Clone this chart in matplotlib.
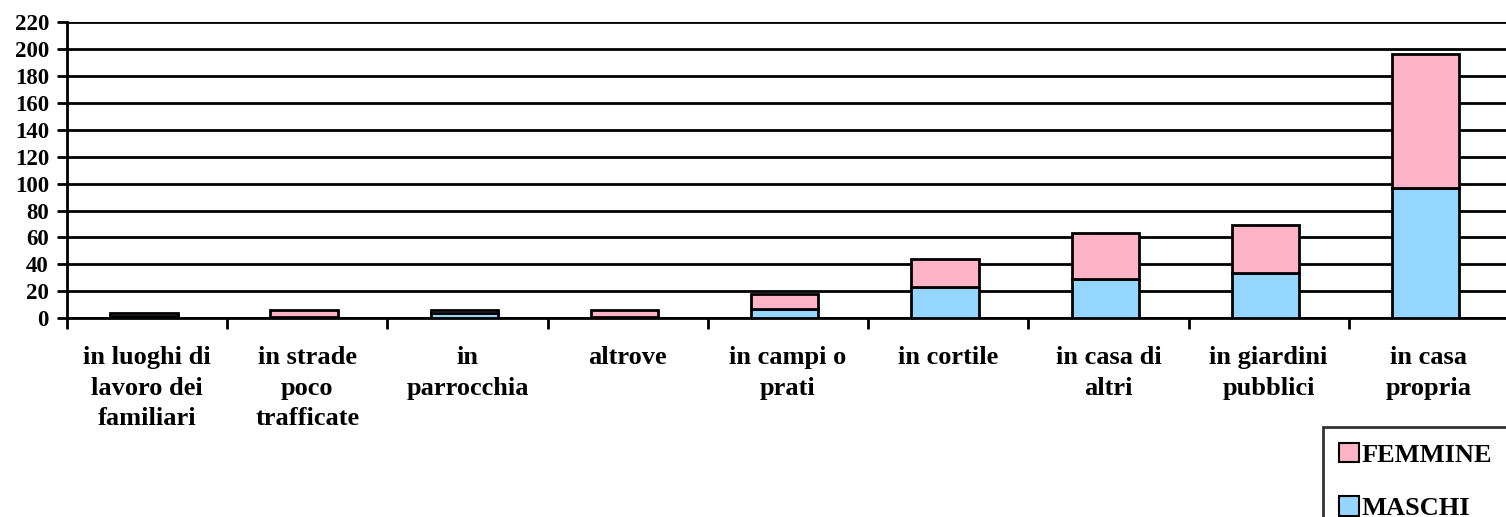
import matplotlib
matplotlib.use("Agg")
import matplotlib.pyplot as plt
from matplotlib.patches import Patch

categories = ["in luoghi di\nlavoro dei\nfamiliari", "in strade\npoco\ntrafficate",
              "in\nparrocchia", "altrove", "in campi o\nprati", "in cortile",
              "in casa di\naltri", "in giardini\npubblici", "in casa\npropria"]
maschi = [2, 1, 4, 1, 7, 23, 29, 34, 97]
femmine = [2, 5, 2, 5, 11, 21, 34, 35, 99]
yticks = list(range(0, 221, 20))

plt.rcParams['font.family'] = ['Liberation Serif', 'DejaVu Serif']
plt.rcParams['font.weight'] = 'bold'

W, H = 1506, 517
fig = plt.figure(figsize=(W / 100, H / 100), dpi=100)
ax = fig.add_axes([67 / W, 1 - 318.3 / H, 1442 / W, 296.3 / H])

pink = '#FFB3C6'
blue = '#94D6FF'
x = [i - 0.02 for i in range(len(categories))]
ax.bar(x, maschi, width=0.42, color=blue, edgecolor='black', linewidth=2, zorder=3)
ax.bar(x, femmine, bottom=maschi, width=0.42, color=pink, edgecolor='black', linewidth=2, zorder=3)

ax.set_ylim(0, 220)
ax.set_xlim(-0.5, len(categories) - 0.5)
ax.set_yticks(yticks)
ax.set_yticklabels([str(v) for v in yticks], fontsize=16.5, fontweight='bold')
ax.yaxis.grid(True, color='black', linewidth=2, zorder=0)
ax.set_axisbelow(True)

ax.set_xticks([i - 0.5 for i in range(len(categories) + 1)])
ax.set_xticklabels([])
ax.set_xticks(list(range(len(categories))), minor=True)
ax.set_xticklabels(categories, minor=True, fontsize=19, fontweight='bold', linespacing=1.42, va='top')
ax.tick_params(axis='x', which='major', length=8, width=2, direction='out')
ax.tick_params(axis='x', which='minor', length=0, pad=20)
ax.tick_params(axis='y', length=7, width=2, direction='out', pad=6)

for s in ['top', 'right']:
    ax.spines[s].set_visible(False)
ax.spines['left'].set_linewidth(2)
ax.spines['bottom'].set_linewidth(2)

handles = [Patch(facecolor=pink, edgecolor='black', linewidth=1.5, label='FEMMINE'),
           Patch(facecolor=blue, edgecolor='black', linewidth=1.5, label='MASCHI')]
leg = fig.legend(handles=handles, loc='upper left', bbox_to_anchor=(1323 / W, 1 - 427 / H),
                 frameon=True, fancybox=False, edgecolor='black',
                 prop={'weight': 'bold', 'size': 19}, handlelength=0.76, handleheight=0.76,
                 handletextpad=0.1, labelspacing=1.12, borderpad=0.6, borderaxespad=0)
leg.get_frame().set_linewidth(2)

fig.savefig('out.png', dpi=100)
